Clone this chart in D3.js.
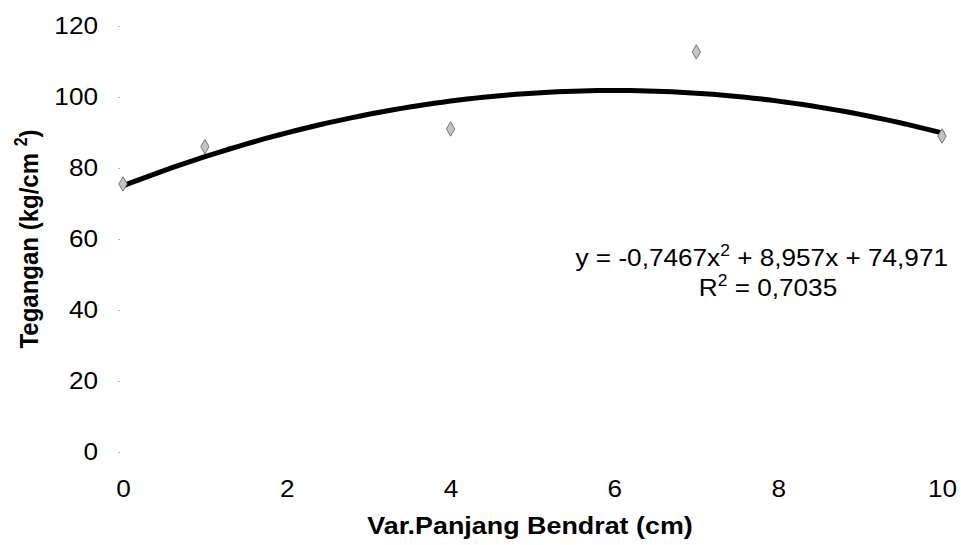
<!DOCTYPE html>
<html>
<head>
<meta charset="utf-8">
<script src="https://cdn.jsdelivr.net/npm/d3@7"></script>
<style>
  body { margin: 0; background: #fff; }
  text { font-family: 'Liberation Sans', Arial, sans-serif; fill: #000; }
</style>
</head>
<body>
<div id="chart"></div>
<script>
const panjang = [0, 1, 4, 7, 10]
const tegangan = [75.5, 86, 91, 112.7, 89]
const trendCoef = [74.971, 8.957, -0.7467] // c, b, a
const xTicks = [0, 2, 4, 6, 8, 10]
const yTicks = [0, 20, 40, 60, 80, 100, 120]

const width = 961
const height = 545
// the scanned chart is a bit wider than tall, so text gets stretched
const stretch = 1.09
const fontSize = 24

const svg = d3
  .select('#chart')
  .append('svg')
  .attr('width', width)
  .attr('height', height)

const xPositionScale = d3.scaleLinear().domain([0, 10]).range([123, 942])
const yPositionScale = d3.scaleLinear().domain([0, 120]).range([452, 26])

// y axis: only small tick dots, labels on the left
const yAxis = d3
  .axisLeft(yPositionScale)
  .tickValues(yTicks)
  .tickSize(2)

svg
  .append('g')
  .attr('class', 'axis y-axis')
  .attr('transform', 'translate(120,0)')
  .call(yAxis)
  .call(g => g.select('.domain').remove())
  .call(g => g.selectAll('line').attr('stroke', '#bbb'))
  .call(g =>
    g
      .selectAll('text')
      .attr('x', -22 / stretch)
      .attr('transform', `scale(${stretch},1)`)
      .style('font-size', fontSize + 'px')
      .style('font-family', "'Liberation Sans', Arial, sans-serif")
  )

const xAxis = d3
  .axisBottom(xPositionScale)
  .tickValues(xTicks)
  .tickSize(0)
  .tickPadding(28)

svg
  .append('g')
  .attr('class', 'axis x-axis')
  .attr('transform', 'translate(0,452)')
  .call(xAxis)
  .call(g => g.select('.domain').remove())
  .call(g =>
    g
      .selectAll('text')
      .attr('transform', `scale(${stretch},1)`)
      .style('font-size', fontSize + 'px')
      .style('font-family', "'Liberation Sans', Arial, sans-serif")
  )

// trendline from the printed coefficients
const trendX = d3.range(0, 10.01, 0.1)
const line = d3
  .line()
  .x(d => xPositionScale(d))
  .y(d => yPositionScale(trendCoef[0] + trendCoef[1] * d + trendCoef[2] * d * d))
  .curve(d3.curveMonotoneX)

svg
  .append('path')
  .datum(trendX)
  .attr('d', line)
  .attr('fill', 'none')
  .attr('stroke', '#000')
  .attr('stroke-width', 5)
  .attr('stroke-linecap', 'round')

// data points
const points = panjang.map((d, i) => ({ x: d, y: tegangan[i] }))

svg
  .selectAll('.point')
  .data(points)
  .enter()
  .append('path')
  .attr('class', 'point')
  .attr('d', d3.symbol().type(d3.symbolDiamond).size(60))
  .attr('transform', d => `translate(${xPositionScale(d.x)},${yPositionScale(d.y)})`)
  .attr('fill', '#c4c4c4')
  .attr('stroke', '#777')
  .attr('stroke-width', 1)

// equation
svg
  .append('text')
  .attr('transform', `translate(948,266) scale(${stretch},1)`)
  .attr('text-anchor', 'end')
  .style('font-size', fontSize + 'px')
  .html('y = -0,7467x<tspan dy="-10" font-size="16">2</tspan><tspan dy="10"> + 8,957x + 74,971</tspan>')

svg
  .append('text')
  .attr('transform', `translate(768,296) scale(${stretch},1)`)
  .attr('text-anchor', 'middle')
  .style('font-size', fontSize + 'px')
  .html('R<tspan dy="-10" font-size="16">2</tspan><tspan dy="10"> = 0,7035</tspan>')

// axis titles
svg
  .append('text')
  .attr('transform', `translate(530,534) scale(1.12,1)`)
  .attr('text-anchor', 'middle')
  .style('font-size', fontSize + 'px')
  .style('font-weight', 'bold')
  .text('Var.Panjang Bendrat (cm)')

svg
  .append('text')
  .attr('transform', `translate(38,239) scale(${stretch},1) rotate(-90)`)
  .attr('text-anchor', 'middle')
  .style('font-size', fontSize + 'px')
  .style('font-weight', 'bold')
  .html('Tegangan (kg/cm <tspan dy="-10" font-size="16">2</tspan><tspan dy="10">)</tspan>')
</script>
</body>
</html>
